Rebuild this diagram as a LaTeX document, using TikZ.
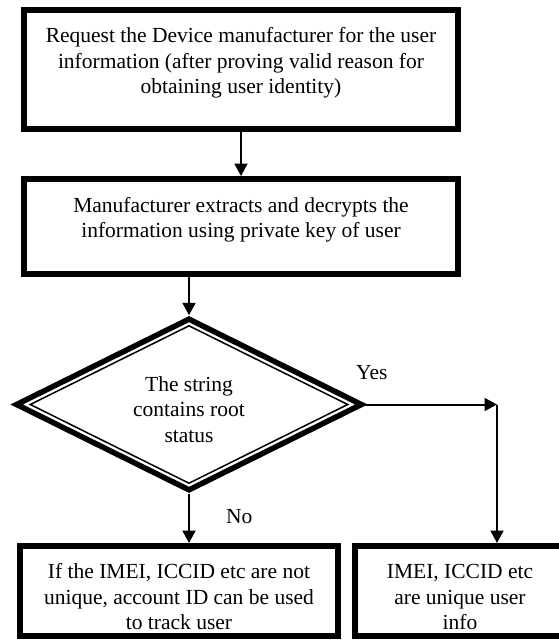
\documentclass[tikz,border=0pt]{standalone}
\usepackage{fontspec}
\setmainfont{Liberation Serif}
\usepackage{tikz}
\usetikzlibrary{shapes.geometric, arrows.meta}

\begin{document}
\begin{tikzpicture}[x=1pt, y=-1pt,
  box/.style={draw, line width=6pt, rectangle, align=center, inner sep=2pt,
    font=\fontsize{21.5pt}{25.5pt}\selectfont},
  upper/.style={box, minimum width=434pt, text depth=18pt},
  lower/.style={box, minimum height=90pt, text height=77.5pt},
  decision/.style={draw, diamond, aspect=2, line width=5.5pt, inner sep=2pt,
    align=center, text height=75.5pt, font=\fontsize{21.5pt}{25.5pt}\selectfont},
  arr/.style={line width=2pt, -{Triangle[length=12.5pt,width=13pt]}},
  lbl/.style={font=\fontsize{21.5pt}{25.5pt}\selectfont, inner sep=0pt}]

\useasboundingbox (0,0) rectangle (559,641);

% Request and extraction
\node[upper, minimum height=119pt] (req) at (241,69.5)
  {Request the Device manufacturer for the user\\
   information (after proving valid reason for\\
   obtaining user identity)};
\node[upper, minimum height=95pt] (manu) at (241,226.5)
  {Manufacturer extracts and decrypts the\\
   information using private key of user};

% Decision
\node[decision, minimum width=347pt, minimum height=173pt] (dec) at (189,404.5)
  {The string\\ contains root\\ status};
\node[draw, diamond, line width=1.5pt, minimum width=318pt, minimum height=158pt,
  inner sep=0pt] (decin) at (dec.center) {};

% Outcomes
\node[lower, minimum width=318pt] (notuniq) at (179,591)
  {If the IMEI, ICCID etc are not\\
   unique, account ID can be used\\
   to track user};
\node[lower, minimum width=210pt] (uniq) at (460,591)
  {IMEI, ICCID etc\\ are unique user\\ info};

% Connectors
\coordinate (turn) at (497,404.5);
\draw[arr] (req) -- (manu);
\draw[arr] (dec.north |- manu.south) -- (dec.north);
\draw[arr] (dec.east) -- node[lbl, pos=0.05, anchor=base, yshift=25pt] {Yes} (turn);
\draw[arr] (turn) -- (turn |- uniq.north);
\draw[arr] (dec.south) -- node[lbl, pos=0.6, anchor=base west, xshift=36pt] {No}
  (dec.south |- notuniq.north);

\end{tikzpicture}
\end{document}
